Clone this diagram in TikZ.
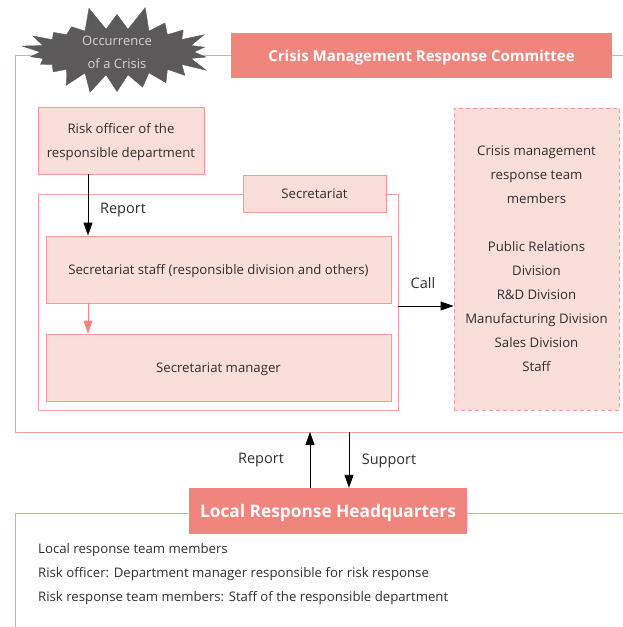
\documentclass[tikz,border=0pt]{standalone}
\usepackage{fontspec}
\setmainfont{Open Sans}
\usetikzlibrary{shapes.symbols,arrows.meta}
\definecolor{salmon}{HTML}{EF857D}
\definecolor{lightfill}{HTML}{FADEDA}
\definecolor{boxline}{HTML}{F29B93}
\definecolor{frameline}{HTML}{F4A29B}
\definecolor{burst}{HTML}{5B5959}
\definecolor{bursttext}{HTML}{D4D4D4}
\definecolor{txt}{HTML}{2E2E2E}
\tikzset{
  base/.style={font=\fontsize{13.2}{15}\selectfont, text=txt},
  pinkbox/.style={base, rectangle, draw=boxline, fill=lightfill, line width=0.9pt, inner sep=0pt, align=center, text depth=0pt},
  headbox/.style={rectangle, fill=salmon, text=white, inner sep=0pt, text depth=0pt, font=\bfseries\fontsize{15}{17}\selectfont},
  frame/.style={draw=frameline, line width=0.9pt},
  lbl/.style={font=\fontsize{14.5}{16}\selectfont, text=txt},
  arr/.style={draw=black, line width=0.9pt, -{Triangle[length=13pt,width=9pt]}},
  pinkarr/.style={draw=salmon, line width=0.9pt, -{Triangle[length=13pt,width=9pt]}, color=salmon},
}
\begin{document}
\begin{tikzpicture}[x=1pt,y=-1pt]
\useasboundingbox (0,0) rectangle (623,627);
% committee frame
\draw[frame] (623,55) -- (15.5,55) -- (15.5,432) -- (623,432);
% local frame
\draw[frame] (623,513) -- (15.5,513) -- (15.5,627);
% starburst
\node[starburst, starburst points=22, starburst point height=24pt, random starburst=5, fill=burst, draw=burst, minimum width=202pt, minimum height=92pt, inner sep=0pt, text depth=0pt, text=bursttext, align=center, font=\fontsize{13}{23}\selectfont] (crisis) at (117,52) {Occurrence\\of a Crisis};
% committee header
\node[headbox, minimum width=381pt, minimum height=45pt] (comm) at (421.5,55.5) {Crisis Management Response Committee};
% risk officer
\node[pinkbox, minimum width=166pt, minimum height=67pt, font=\fontsize{13.2}{24}\selectfont] (risk) at (121,140.5) {Risk officer of the\\responsible department};
% secretariat frame
\node[frame, rectangle, minimum width=360pt, minimum height=216pt, inner sep=0pt] (secf) at (218,302) {};
\node[pinkbox, minimum width=143pt, minimum height=37pt] (seclbl) at (314.5,193.5) {Secretariat};
\node[pinkbox, minimum width=345pt, minimum height=67pt] (staff) at (218.5,269.5) {Secretariat staff (responsible division and others)};
\node[pinkbox, minimum width=345pt, minimum height=67pt] (mgr) at (218.5,367.5) {Secretariat manager};
% team
\node[pinkbox, dashed, dash pattern=on 4pt off 3pt, minimum width=165pt, minimum height=302pt, font=\fontsize{13.2}{24}\selectfont] (team) at (536.5,259) {Crisis management\\response team\\members\\[24pt]Public Relations\\Division\\R\&D Division\\Manufacturing Division\\Sales Division\\Staff};
% local header
\node[headbox, minimum width=278pt, minimum height=46pt, font=\bfseries\fontsize{17.3}{19}\selectfont] (local) at (328,511) {Local Response Headquarters};
% bottom texts
\node[base, anchor=west, inner sep=0pt] (t1) at (38,550.5) {Local response team members};
\node[base, anchor=west, inner sep=0pt] (t2) at (38,574.5) {Risk officer: Department manager responsible for risk response};
\node[base, anchor=west, inner sep=0pt] (t3) at (38,598.5) {Risk response team members: Staff of the responsible department};
% arrows
\coordinate (ax) at (88,0);
\draw[arr] (risk.south -| ax) -- (staff.north -| ax);
\node[lbl] (rep1) at (123,210.5) {Report};
\draw[pinkarr] (staff.south -| ax) -- (mgr.north -| ax);
\coordinate (cy) at (0,306);
\draw[arr] (secf.east |- cy) -- (team.west |- cy);
\node[lbl] (call) at (423,283.5) {Call};
\coordinate (up) at (310,432);
\coordinate (dn) at (349,432);
\draw[arr] (local.north -| up) -- (up);
\draw[arr] (dn) -- (local.north -| dn);
\node[lbl] (rep2) at (261,460.5) {Report};
\node[lbl] (sup) at (389,460.5) {Support};
\end{tikzpicture}
\end{document}
